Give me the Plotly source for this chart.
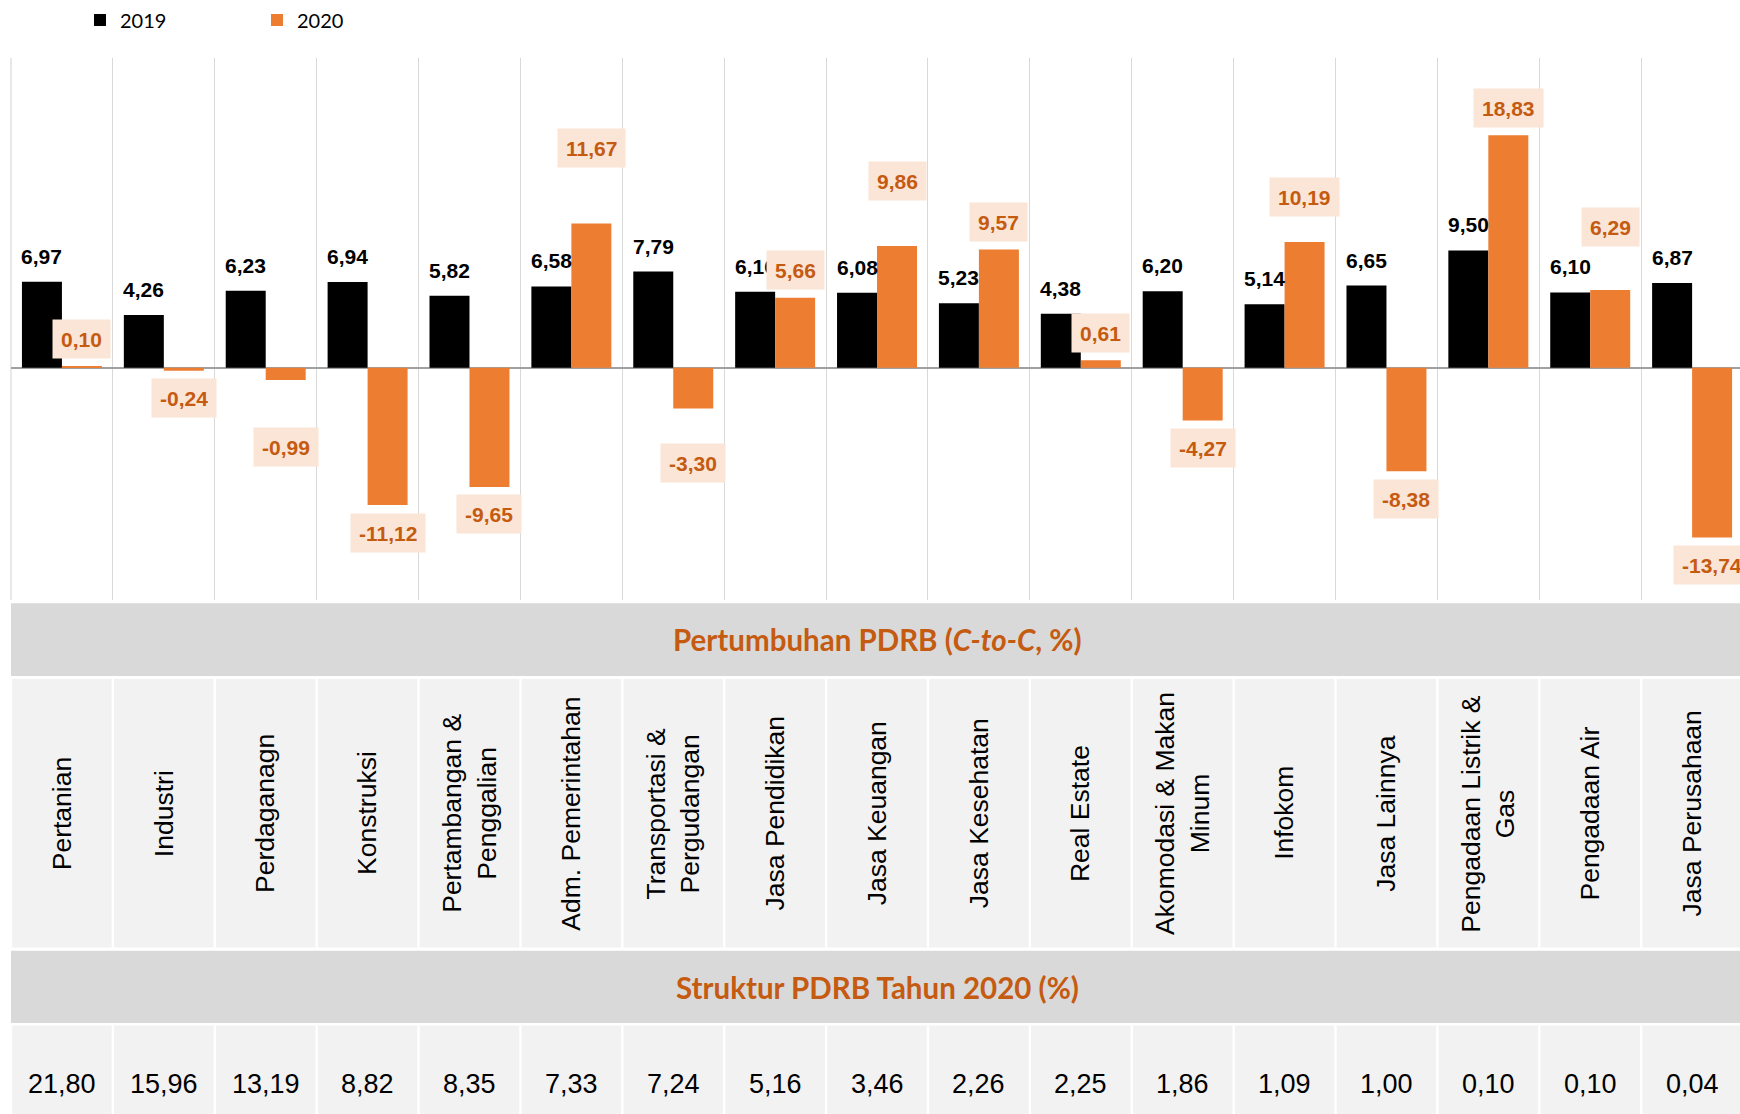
import plotly.graph_objects as go

# ---------------- data ----------------
categories = [
    "Pertanian", "Industri", "Perdaganagn", "Konstruksi",
    "Pertambangan & Penggalian", "Adm. Pemerintahan",
    "Transportasi & Pergudangan", "Jasa Pendidikan", "Jasa Keuangan",
    "Jasa Kesehatan", "Real Estate", "Akomodasi & Makan Minum", "Infokom",
    "Jasa Lainnya", "Pengadaan Listrik & Gas", "Pengadaan Air",
    "Jasa Perusahaan",
]
category_labels = [
    "Pertanian", "Industri", "Perdaganagn", "Konstruksi",
    "Pertambangan &<br>Penggalian", "Adm. Pemerintahan",
    "Transportasi &<br>Pergudangan", "Jasa Pendidikan", "Jasa Keuangan",
    "Jasa Kesehatan", "Real Estate", "Akomodasi & Makan<br>Minum", "Infokom",
    "Jasa Lainnya", "Pengadaan Listrik &<br>Gas", "Pengadaan Air",
    "Jasa Perusahaan",
]
growth_2019 = [6.97, 4.26, 6.23, 6.94, 5.82, 6.58, 7.79, 6.16, 6.08, 5.23,
               4.38, 6.20, 5.14, 6.65, 9.50, 6.10, 6.87]
growth_2020 = [0.10, -0.24, -0.99, -11.12, -9.65, 11.67, -3.30, 5.66, 9.86,
               9.57, 0.61, -4.27, 10.19, -8.38, 18.83, 6.29, -13.74]
share_2020 = [21.80, 15.96, 13.19, 8.82, 8.35, 7.33, 7.24, 5.16, 3.46, 2.26,
              2.25, 1.86, 1.09, 1.00, 0.10, 0.10, 0.04]
series_names = ["2019", "2020"]
header_growth = "Pertumbuhan PDRB (<i>C-to-C</i>, %)"
header_share = "Struktur PDRB Tahun 2020 (%)"

# ---------------- styling / layout constants ----------------
W, H = 1740, 1114
PLOT_LEFT = 11
PLOT_TOP, PLOT_BOTTOM = 57.5, 600
Y_RANGE = [-18.81, 25.08]
X_RANGE = [-0.5, 16.47]
BARGAP = 0.215
BLACK = "#000000"
ORANGE = "#ED7D31"
ORANGE_TEXT = "#C55A11"
LABEL_BG = "#FBE5D6"
HEADER_BG = "#D9D9D9"
CELL_BG = "#F2F2F2"
GRID = "#D9D9D9"
NARROW = "Liberation Sans Narrow, Arial Narrow, Liberation Sans, Arial, sans-serif"
BOLD_LABEL = "Liberation Sans, Arial, sans-serif"
CALIBRI_LIKE = "Lato, Open Sans, sans-serif"

# extra pixel distance of some 2020 labels (manually moved in the original)
label_extra_2020 = [0, 0, 40, 0, 0, 48, 27, 0, 37, 0, 0, 0, 17, 0, 0, 36, 0]
OFFSET_2019 = 25.5
OFFSET_2020 = 27.5


def py(px):
    """pixel row -> paper y"""
    return (PLOT_BOTTOM - px) / (PLOT_BOTTOM - PLOT_TOP)


def fmt(v):
    return f"{v:.2f}".replace(".", ",")


fig = go.Figure()
fig.add_trace(go.Bar(x=categories, y=growth_2019, name=series_names[0],
                     marker=dict(color=BLACK, line=dict(width=0)),
                     hoverinfo="x+y"))
fig.add_trace(go.Bar(x=categories, y=growth_2020, name=series_names[1],
                     marker=dict(color=ORANGE, line=dict(width=0)),
                     hoverinfo="x+y"))

half = (1 - BARGAP) / 4  # centre offset of each bar inside its category
annotations = []
shapes = []

# left border gridline of the plot area
shapes.append(dict(type="line", xref="paper", yref="paper", x0=0, x1=0,
                   y0=0, y1=1, line=dict(color=GRID, width=1.2),
                   layer="below"))

# data labels 2019
for i, v in enumerate(growth_2019):
    s = 1 if v >= 0 else -1
    annotations.append(dict(
        x=i - half, y=v, xref="x", yref="y", text=f"<b>{fmt(v)}</b>",
        showarrow=False, xanchor="center", yanchor="middle",
        yshift=s * OFFSET_2019,
        font=dict(family=BOLD_LABEL, size=21, color=BLACK)))
# data labels 2020 (boxed)
for i, v in enumerate(growth_2020):
    s = 1 if v >= 0 else -1
    annotations.append(dict(
        x=i + half, y=v, xref="x", yref="y", text=f"<b>{fmt(v)}</b>",
        showarrow=False, xanchor="center", yanchor="middle",
        yshift=s * (OFFSET_2020 + label_extra_2020[i]),
        bgcolor=LABEL_BG, borderpad=8, height=22,
        font=dict(family=BOLD_LABEL, size=21, color=ORANGE_TEXT)))

# ---------------- table below the chart ----------------
rows = [  # (top px, bottom px, fill)
    (603.3, 676, HEADER_BG),
    (679, 947.7, CELL_BG),
    (951, 1023.3, HEADER_BG),
    (1026, 1120, CELL_BG),
]
for top, bottom, fill in rows:
    shapes.append(dict(type="rect", xref="x", yref="paper",
                       x0=X_RANGE[0], x1=X_RANGE[1] + 1,
                       y0=py(bottom), y1=py(top),
                       fillcolor=fill, line=dict(width=0), layer="below"))
# white separators between cells in the label and value rows
for top, bottom, fill in (rows[1], rows[3]):
    for k in range(len(categories) + 1):
        shapes.append(dict(type="line", xref="x", yref="paper",
                           x0=k - 0.5, x1=k - 0.5,
                           y0=py(bottom), y1=py(top),
                           line=dict(color="white", width=2.4),
                           layer="below"))

mid = (len(categories) - 1) / 2
annotations.append(dict(
    x=mid, y=py(640), xref="x", yref="paper", text=f"<b>{header_growth}</b>",
    showarrow=False, xanchor="center", yanchor="middle",
    font=dict(family=CALIBRI_LIKE, size=29.5, color=ORANGE_TEXT)))
annotations.append(dict(
    x=mid, y=py(987.5), xref="x", yref="paper", text=f"<b>{header_share}</b>",
    showarrow=False, xanchor="center", yanchor="middle",
    font=dict(family=CALIBRI_LIKE, size=29.5, color=ORANGE_TEXT)))

for i, lab in enumerate(category_labels):
    annotations.append(dict(
        x=i, y=py(813.5), xref="x", yref="paper", text=lab,
        showarrow=False, textangle=-90, xanchor="center", yanchor="middle",
        font=dict(family=NARROW, size=26.5, color=BLACK)))
for i, v in enumerate(share_2020):
    annotations.append(dict(
        x=i, y=py(1084.5), xref="x", yref="paper", text=fmt(v),
        showarrow=False, xanchor="center", yanchor="middle",
        font=dict(family=NARROW, size=27, color=BLACK)))

fig.update_layout(
    width=W, height=H,
    margin=dict(l=PLOT_LEFT, r=0, t=PLOT_TOP, b=H - PLOT_BOTTOM, pad=0),
    paper_bgcolor="white", plot_bgcolor="white",
    barmode="group", bargap=BARGAP, bargroupgap=0,
    showlegend=True,
    legend=dict(orientation="h", x=(80 - PLOT_LEFT) / (W - PLOT_LEFT),
                xanchor="left", y=py(19.5), yanchor="middle",
                entrywidth=132, entrywidthmode="pixels",
                font=dict(family=CALIBRI_LIKE, size=20, color=BLACK),
                bgcolor="rgba(0,0,0,0)", traceorder="normal"),
    xaxis=dict(type="category", categoryorder="array",
               categoryarray=categories, range=X_RANGE,
               showticklabels=False, ticks="", tickson="boundaries",
               showgrid=True, gridcolor=GRID, gridwidth=1,
               showline=False, zeroline=False, fixedrange=True),
    yaxis=dict(range=Y_RANGE, showgrid=False, showticklabels=False,
               ticks="", zeroline=True, zerolinecolor="#A0A0A0",
               zerolinewidth=1.5, showline=False, fixedrange=True),
    annotations=annotations,
    shapes=shapes,
)

fig.write_html("out.html",
               config=dict(displayModeBar=False),
               post_script="document.body.style.margin='0';"
                           "document.body.style.overflow='hidden';")
